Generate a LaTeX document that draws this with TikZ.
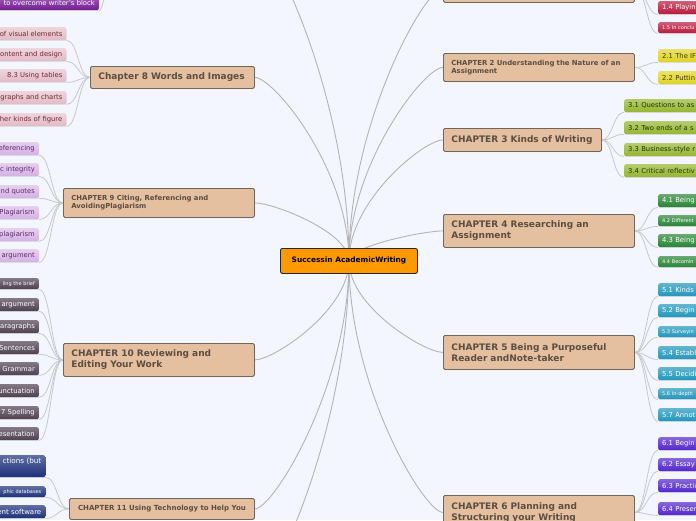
\documentclass[tikz,border=0pt]{standalone}
\usepackage{fontspec}
\setmainfont{DejaVu Sans}
\usetikzlibrary{calc,shadows}
\definecolor{bgc}{RGB}{243,246,254}
\definecolor{chapfill}{RGB}{228,191,160}
\definecolor{chapborder}{RGB}{112,102,92}
\definecolor{chaptext}{RGB}{92,78,64}
\definecolor{ctrfill}{RGB}{255,153,0}
\definecolor{mainln}{RGB}{180,180,180}
\definecolor{kidln}{RGB}{200,200,202}
\definecolor{cA}{RGB}{185,25,60}
\definecolor{cB}{RGB}{222,212,36}
\definecolor{cC}{RGB}{148,182,48}
\definecolor{cD}{RGB}{38,132,52}
\definecolor{cE}{RGB}{32,150,186}
\definecolor{cF}{RGB}{82,38,205}
\definecolor{cG}{RGB}{118,28,148}
\definecolor{cH}{RGB}{226,186,196}
\definecolor{cI}{RGB}{212,176,228}
\definecolor{cJ}{RGB}{78,64,82}
\definecolor{cK}{RGB}{28,48,122}
\definecolor{tH}{RGB}{112,40,62}
\definecolor{tI}{RGB}{92,42,104}
\definecolor{tB}{RGB}{70,58,0}
\definecolor{tC}{RGB}{40,52,0}
\pgfdeclarelayer{bg}
\pgfsetlayers{bg,main}
\tikzset{
  chap/.style={draw=chapborder, fill=chapfill, rounded corners=1.5pt, line width=0.8pt,
    text=chaptext, align=left, inner xsep=8pt, inner ysep=0pt, anchor=north west,
    drop shadow={opacity=0.18, shadow xshift=0.6pt, shadow yshift=-0.8pt}},
  bigt/.style={font=\fontsize{9}{11}\selectfont\bfseries},
  smt/.style={font=\fontsize{6.9}{8.4}\selectfont\bfseries},
  subbox/.style={rounded corners=2pt, inner xsep=4pt, inner ysep=0pt,
    font=\fontsize{6.8}{8}\selectfont, minimum height=13pt,
    drop shadow={opacity=0.18, shadow xshift=0.4pt, shadow yshift=-0.7pt}},
  subR/.style={subbox, anchor=north west, text width=80pt, align=left},
  subL/.style={subbox, anchor=north east, text width=110pt, align=right},
  tiny/.style={font=\fontsize{5}{6}\selectfont, minimum height=11pt},
  sA/.style={top color=cA!70!white, bottom color=cA, text=white},
  sB/.style={top color=cB!70!white, bottom color=cB, text=tB},
  sC/.style={top color=cC!70!white, bottom color=cC, text=tC},
  sD/.style={top color=cD!70!white, bottom color=cD, text=white},
  sE/.style={top color=cE!70!white, bottom color=cE, text=white},
  sF/.style={top color=cF!70!white, bottom color=cF, text=white},
  sG/.style={top color=cG!70!white, bottom color=cG, text=white},
  sH/.style={top color=cH!60!white, bottom color=cH, text=tH},
  sI/.style={top color=cI!60!white, bottom color=cI, text=tI},
  sJ/.style={top color=cJ!70!white, bottom color=cJ, text=white},
  sK/.style={top color=cK!70!white, bottom color=cK, text=white},
  mainline/.style={draw=mainln, line width=0.9pt},
  kidline/.style={draw=kidln, line width=0.8pt}
}
\newcommand\mainR[1]{\draw[mainline] let \p1=(ctr.center), \p2=(#1.west) in
  (\p1) .. controls (\x1,{0.5*\y1+0.5*\y2}) and ({0.8*\x2+0.2*\x1},\y2) .. (\p2);}
\newcommand\mainL[1]{\draw[mainline] let \p1=(ctr.center), \p2=(#1.east) in
  (\p1) .. controls (\x1,{0.5*\y1+0.5*\y2}) and ({0.8*\x2+0.2*\x1},\y2) .. (\p2);}
\newcommand\kidR[2]{\draw[kidline] let \p1=(#1.east), \p2=(#2.south west) in
  (\p1) .. controls ({0.5*\x1+0.5*\x2},\y1) and ({0.5*\x1+0.5*\x2},\y2) .. (\p2);}
\newcommand\kidL[2]{\draw[kidline] let \p1=(#1.west), \p2=(#2.south east) in
  (\p1) .. controls ({0.5*\x1+0.5*\x2},\y1) and ({0.5*\x1+0.5*\x2},\y2) .. (\p2);}
\begin{document}
\begin{tikzpicture}[x=1pt,y=-1pt]
\useasboundingbox (0,0) rectangle (696,520);
\clip (0,0) rectangle (696,520);

% centre
\node[draw=black!85, line width=0.9pt, fill=ctrfill, rounded corners=2pt, anchor=north west,
  minimum width=137pt, minimum height=25pt, inner sep=0pt,
  font=\fontsize{7.4}{8.5}\selectfont\bfseries] (ctr) at (280,248) {Successin AcademicWriting};

% chapters right
\node[chap, minimum width=191pt, minimum height=28pt] (c1) at (443,-26) {};
\node[chap, smt, minimum width=191pt, minimum height=28pt, text width=175pt] (c2) at (443,53)
  {CHAPTER 2 Understanding the Nature of an\\Assignment};
\node[chap, bigt, minimum width=158pt, minimum height=23pt, text width=142pt] (c3) at (443,128)
  {CHAPTER 3 Kinds of Writing};
\node[chap, bigt, minimum width=191pt, minimum height=33pt, text width=175pt] (c4) at (443,214)
  {CHAPTER 4 Researching an\\Assignment};
\node[chap, bigt, minimum width=191pt, minimum height=34pt, text width=175pt] (c5) at (443,335)
  {CHAPTER 5 Being a Purposeful\\Reader andNote-taker};
\node[chap, bigt, minimum width=191pt, minimum height=34pt, text width=175pt] (c6) at (443,495)
  {CHAPTER 6 Planning and\\Structuring your Writing};

% chapters left
\node[chap, minimum width=139pt, minimum height=30pt] (c7) at (115,-75) {};
\node[chap, bigt, minimum width=164pt, minimum height=22pt, text width=148pt] (c8) at (90,66)
  {Chapter 8 Words and Images};
\node[chap, smt, minimum width=191pt, minimum height=29pt, text width=175pt] (c9) at (63,188)
  {CHAPTER 9 Citing, Referencing and\\AvoidingPlagiarism};
\node[chap, bigt, minimum width=191pt, minimum height=33pt, text width=175pt] (c10) at (63,343)
  {CHAPTER 10 Reviewing and\\Editing Your Work};
\node[chap, font=\fontsize{7}{8.5}\selectfont\bfseries, inner xsep=4pt, minimum width=185pt, minimum height=21pt] (c11) at (69,498)
  {CHAPTER 11 Using Technology to Help You};
\node[chap, minimum width=191pt, minimum height=30pt] (c12) at (63,575) {};

% subtopics chapter 1
\node[subR, sA] (a4) at (658,1) {1.4 Playin};
\node[subR, sA, tiny] (a5) at (658,22) {1.5 In conclu};
% chapter 2
\node[subR, sB] (b1) at (658,49) {2.1 The IF};
\node[subR, sB] (b2) at (658,71) {2.2 Puttin};
% chapter 3
\node[subR, sC] (k1) at (624,99) {3.1 Questions to as};
\node[subR, sC] (k2) at (624,121) {3.2 Two ends of a s};
\node[subR, sC] (k3) at (624,143) {3.3 Business-style r};
\node[subR, sC] (k4) at (624,164) {3.4 Critical reflectiv};
% chapter 4
\node[subR, sD] (d1) at (658,194) {4.1 Being};
\node[subR, sD, tiny] (d2) at (658,215) {4.2 Different};
\node[subR, sD] (d3) at (658,234) {4.3 Being};
\node[subR, sD, tiny] (d4) at (658,256) {4.4 Becomin};
% chapter 5
\node[subR, sE] (e1) at (658,283) {5.1 Kinds};
\node[subR, sE] (e2) at (658,304) {5.2 Begin};
\node[subR, sE, tiny] (e3) at (658,326) {5.3 Surveyin};
\node[subR, sE] (e4) at (658,346) {5.4 Establ};
\node[subR, sE] (e5) at (658,367) {5.5 Decidi};
\node[subR, sE, tiny] (e6) at (658,388) {5.6 In-depth};
\node[subR, sE] (e7) at (658,408) {5.7 Annot};
% chapter 6
\node[subR, sF] (f1) at (658,437) {6.1 Begin};
\node[subR, sF] (f2) at (658,458) {6.2 Essay};
\node[subR, sF] (f3) at (658,479) {6.3 Practic};
\node[subR, sF] (f4) at (658,502) {6.4 Presen};

% chapter 7
\node[subL, sG, minimum height=14pt] (g1) at (99,-4) {to overcome writer's block};
% chapter 8
\node[subL, sH] (h1) at (66.5,27) {of visual elements};
\node[subL, sH] (h2) at (66.5,48) {ontent and design};
\node[subL, sH] (h3) at (66.5,69) {8.3 Using tables};
\node[subL, sH] (h4) at (66.5,91) {graphs and charts};
\node[subL, sH] (h5) at (66.5,113) {her kinds of figure};
% chapter 9
\node[subL, sI] (i1) at (39,142) {eferencing};
\node[subL, sI] (i2) at (39,163) {c integrity};
\node[subL, sI] (i3) at (39,185) {nd quotes};
\node[subL, sI] (i4) at (39,206) {Plagiarism};
\node[subL, sI] (i5) at (39,228) {plagiarism};
\node[subL, sI] (i6) at (39,249) {argument};
% chapter 10
\node[subL, sJ, tiny] (j1) at (39,278) {ling the brief};
\node[subL, sJ] (j2) at (39,298) {argument};
\node[subL, sJ] (j3) at (39,320) {aragraphs};
\node[subL, sJ] (j4) at (39,341) {Sentences};
\node[subL, sJ] (j5) at (39,362) {Grammar};
\node[subL, sJ] (j6) at (39,384) {unctuation};
\node[subL, sJ] (j7) at (39,406) {7 Spelling};
\node[subL, sJ] (j8) at (39,427) {esentation};
% chapter 11
\node[subL, sK, minimum height=22pt, font=\fontsize{7.2}{8.5}\selectfont] (l1) at (45.5,455) {ctions (but\\\strut};
\node[subL, sK, tiny] (l2) at (45.5,486) {phic databases};
\node[subL, sK, font=\fontsize{7}{8}\selectfont] (l3) at (45.5,505) {ent software};

\begin{pgfonlayer}{bg}
\clip (0,0) rectangle (696,520);
\fill[bgc] (0,0) rectangle (696,520);
\mainR{c1}\mainR{c2}\mainR{c3}\mainR{c4}\mainR{c5}\mainR{c6}
\mainL{c7}\mainL{c8}\mainL{c9}\mainL{c10}\mainL{c11}\mainL{c12}
\kidR{c1}{a4}\kidR{c1}{a5}
\kidR{c2}{b1}\kidR{c2}{b2}
\kidR{c3}{k1}\kidR{c3}{k2}\kidR{c3}{k3}\kidR{c3}{k4}
\kidR{c4}{d1}\kidR{c4}{d2}\kidR{c4}{d3}\kidR{c4}{d4}
\kidR{c5}{e1}\kidR{c5}{e2}\kidR{c5}{e3}\kidR{c5}{e4}\kidR{c5}{e5}\kidR{c5}{e6}\kidR{c5}{e7}
\kidR{c6}{f1}\kidR{c6}{f2}\kidR{c6}{f3}\kidR{c6}{f4}
\kidL{c7}{g1}
\kidL{c8}{h1}\kidL{c8}{h2}\kidL{c8}{h3}\kidL{c8}{h4}\kidL{c8}{h5}
\kidL{c9}{i1}\kidL{c9}{i2}\kidL{c9}{i3}\kidL{c9}{i4}\kidL{c9}{i5}\kidL{c9}{i6}
\kidL{c10}{j1}\kidL{c10}{j2}\kidL{c10}{j3}\kidL{c10}{j4}\kidL{c10}{j5}\kidL{c10}{j6}\kidL{c10}{j7}\kidL{c10}{j8}
\kidL{c11}{l1}\kidL{c11}{l2}\kidL{c11}{l3}
\end{pgfonlayer}
\end{tikzpicture}
\end{document}
